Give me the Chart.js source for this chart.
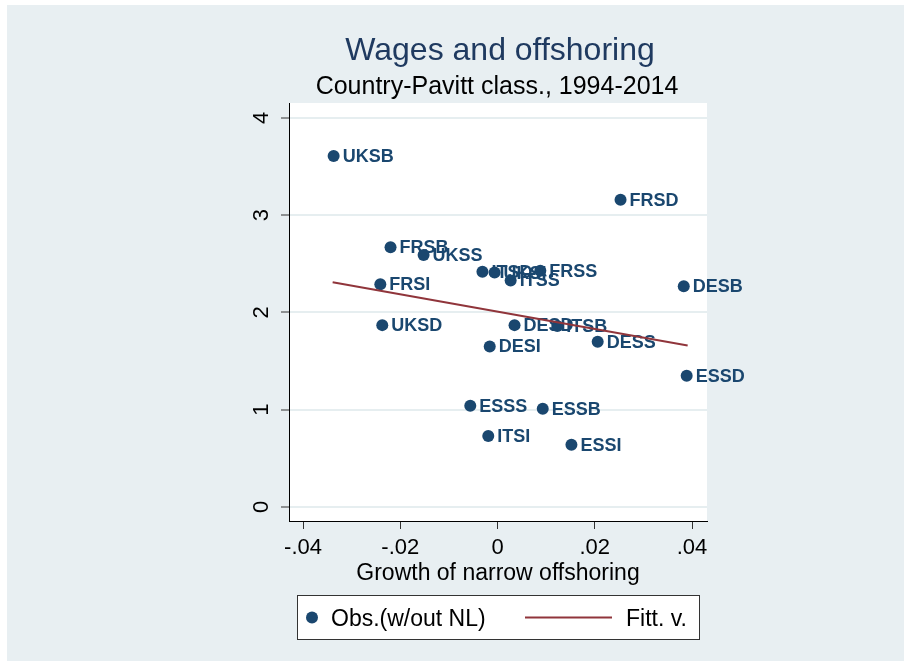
<!DOCTYPE html>
<html>
<head>
<meta charset="utf-8">
<script src="https://cdn.jsdelivr.net/npm/chart.js@4.4.1/dist/chart.umd.min.js"></script>
<style>
  html, body { margin: 0; padding: 0; background: #fff; }
</style>
</head>
<body>
<canvas id="wagesChart" width="911" height="666"></canvas>
<script>
// country + Pavitt class (NL left out), sorted like the Stata data
const codes = ["DESB", "DESD", "DESI", "DESS", "ESSB", "ESSD", "ESSI", "ESSS", "FRSB", "FRSD",
               "FRSI", "FRSS", "ITSB", "ITSD", "ITSI", "ITSS", "UKSB", "UKSD", "UKSI", "UKSS"];
const offshoringGrowth = [0.0383, 0.0035, -0.0016, 0.0206, 0.0093, 0.0389, 0.0152, -0.0056, -0.0220, 0.0253,
                          -0.0241, 0.0088, 0.0123, -0.0031, -0.0019, 0.0027, -0.0337, -0.0237, -0.0006, -0.0152];
const wageGrowth = [2.27, 1.87, 1.65, 1.70, 1.01, 1.35, 0.64, 1.04, 2.67, 3.16,
                    2.29, 2.43, 1.86, 2.42, 0.73, 2.33, 3.61, 1.87, 2.41, 2.59];
// fitted line, ends
const fitX = [-0.0339, 0.0391];
const fitY = [2.31, 1.66];

const xTicks = [-0.04, -0.02, 0, 0.02, 0.04];
const xTickLabels = ["-.04", "-.02", "0", ".02", ".04"];
const yTicks = [0, 1, 2, 3, 4];
const yTickLabels = ["0", "1", "2", "3", "4"];

const FONT = '"Liberation Sans", Arial, sans-serif';
const NAVY = "#1a476f";
const MAROON = "#90353b";
const BG = "#e8eff2";

const stataLook = {
  id: "stataLook",
  beforeDraw(chart) {
    const { ctx, chartArea: a } = chart;
    ctx.save();
    ctx.fillStyle = "#fff";
    ctx.fillRect(0, 0, chart.width, chart.height);
    ctx.fillStyle = BG;
    ctx.fillRect(7, 5, chart.width - 14, chart.height - 10);
    ctx.fillStyle = "#fff";
    ctx.fillRect(a.left, a.top, a.right - a.left, a.bottom - a.top);
    ctx.restore();
  },
  // scatter: marker then its label, point by point (later markers cover earlier labels)
  beforeDatasetDraw(chart, args) {
    if (args.index !== 0) return;
    const ctx = chart.ctx;
    ctx.save();
    ctx.font = "bold 18px " + FONT;
    ctx.textBaseline = "middle";
    ctx.textAlign = "left";
    args.meta.data.forEach((pt, i) => {
      pt.draw(ctx, chart.chartArea);
      ctx.fillStyle = NAVY;
      ctx.fillText(codes[i], pt.x + 9, pt.y + 1);
    });
    ctx.restore();
    return false;
  },
  afterDraw(chart) {
    const ctx = chart.ctx;
    ctx.save();
    ctx.textAlign = "center";
    ctx.textBaseline = "alphabetic";
    ctx.fillStyle = "#1f3a60";
    ctx.font = "32px " + FONT;
    ctx.fillText("Wages and offshoring", 500, 60);
    ctx.fillStyle = "#000";
    ctx.font = "25px " + FONT;
    ctx.fillText("Country-Pavitt class., 1994-2014", 497, 94);

    // legend box
    const ds = chart.data.datasets;
    ctx.fillStyle = "#fff";
    ctx.fillRect(297, 595, 402, 44);
    ctx.strokeStyle = "#333";
    ctx.lineWidth = 1;
    ctx.strokeRect(297.5, 595.5, 402, 44);
    ctx.fillStyle = ds[0].backgroundColor;
    ctx.beginPath();
    ctx.arc(312, 617.5, 6, 0, Math.PI * 2);
    ctx.fill();
    ctx.strokeStyle = ds[1].borderColor;
    ctx.lineWidth = 2;
    ctx.beginPath();
    ctx.moveTo(525, 617.5);
    ctx.lineTo(612, 617.5);
    ctx.stroke();
    ctx.fillStyle = "#000";
    ctx.font = "23px " + FONT;
    ctx.textAlign = "left";
    ctx.fillText(ds[0].label, 331, 626);
    ctx.fillText(ds[1].label, 626, 626);
    ctx.restore();
  }
};

new Chart(document.getElementById("wagesChart"), {
  type: "scatter",
  data: {
    datasets: [
      {
        label: "Obs.(w/out NL)",
        data: offshoringGrowth.map((x, i) => ({ x: x, y: wageGrowth[i] })),
        backgroundColor: NAVY,
        borderColor: NAVY,
        borderWidth: 0,
        pointRadius: 6,
        order: 2
      },
      {
        label: "Fitt. v.",
        type: "line",
        data: fitX.map((x, i) => ({ x: x, y: fitY[i] })),
        borderColor: MAROON,
        borderWidth: 2,
        pointRadius: 0,
        fill: false,
        order: 1
      }
    ]
  },
  options: {
    responsive: false,
    devicePixelRatio: 1,
    animation: false,
    events: [],
    layout: { padding: { top: 103, right: 204, bottom: 0, left: 0 } },
    plugins: {
      legend: { display: false },
      title: { display: false },
      tooltip: { enabled: false }
    },
    scales: {
      x: {
        type: "linear",
        min: -0.04288,
        max: 0.04308,
        afterFit: (s) => { s.height = 145; },
        afterBuildTicks: (s) => { s.ticks = xTicks.map(v => ({ value: v })); },
        ticks: {
          color: "#000",
          font: { family: FONT, size: 22 },
          padding: 6,
          maxRotation: 0,
          callback: (v) => xTickLabels[xTicks.indexOf(v)]
        },
        grid: { drawOnChartArea: false, tickLength: 8, tickColor: "#333" },
        border: { color: "#000", width: 1 },
        title: {
          display: true,
          text: "Growth of narrow offshoring",
          color: "#000",
          font: { family: FONT, size: 23 },
          padding: { top: 0, bottom: 79 }
        }
      },
      y: {
        type: "linear",
        min: -0.144,
        max: 4.154,
        afterFit: (s) => { s.width = 289; },
        afterBuildTicks: (s) => { s.ticks = yTicks.map(v => ({ value: v })); },
        ticks: {
          color: "#000",
          font: { family: FONT, size: 22 },
          padding: 13,
          minRotation: 90,
          maxRotation: 90,
          crossAlign: "center",
          callback: (v) => yTickLabels[yTicks.indexOf(v)]
        },
        grid: { color: "#e6eef0", lineWidth: 2, tickLength: 8, tickColor: "#333", tickWidth: 1 },
        border: { color: "#000", width: 1 }
      }
    }
  },
  plugins: [stataLook]
});
</script>
</body>
</html>
